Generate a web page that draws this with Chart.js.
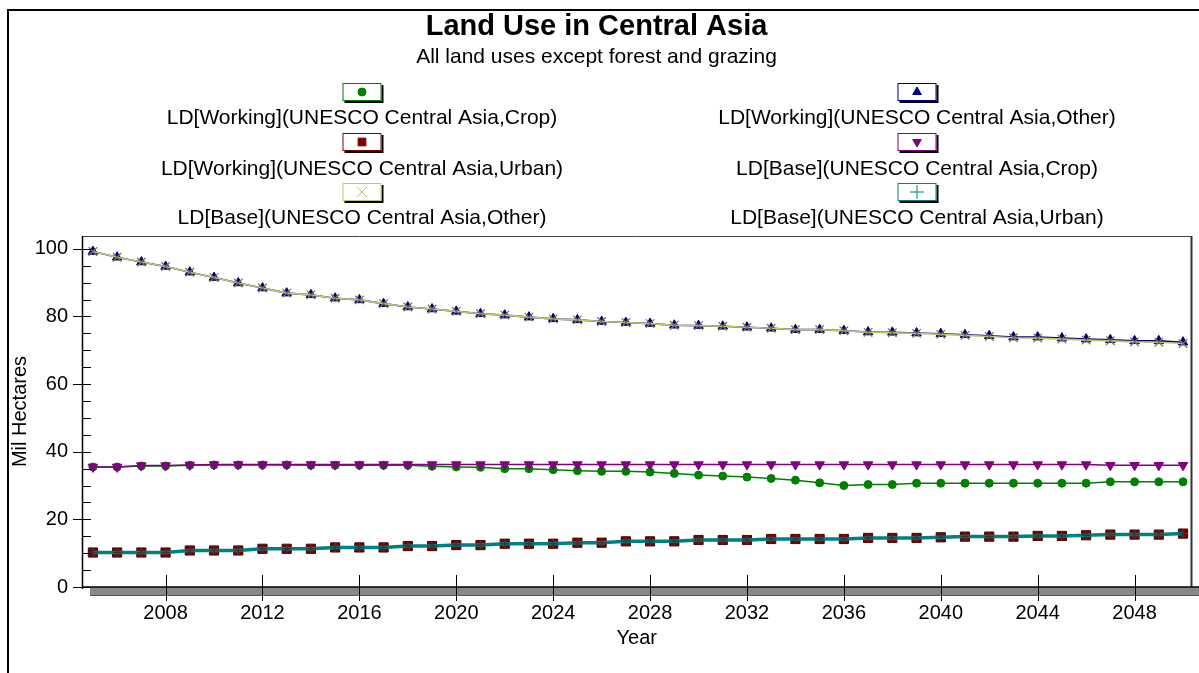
<!DOCTYPE html>
<html><head><meta charset="utf-8">
<title>Land Use in Central Asia</title>
<script src="https://cdn.jsdelivr.net/npm/chart.js@4.4.1/dist/chart.umd.min.js"></script>
<style>html,body{margin:0;padding:0;background:#fff;}#c{display:block;}</style>
</head><body>
<canvas id="c" width="1199" height="673"></canvas>
<script>
const chartTitle = 'Land Use in Central Asia';
const chartSubtitle = 'All land uses except forest and grazing';
const yAxisTitle = 'Mil Hectares';
const xAxisTitle = 'Year';
const years = [2005,2006,2007,2008,2009,2010,2011,2012,2013,2014,2015,2016,2017,2018,2019,2020,2021,2022,2023,2024,2025,2026,2027,2028,2029,2030,2031,2032,2033,2034,2035,2036,2037,2038,2039,2040,2041,2042,2043,2044,2045,2046,2047,2048,2049,2050];
const xTickValues = [2008,2012,2016,2020,2024,2028,2032,2036,2040,2044,2048];
const yTickValues = [0,20,40,60,80,100];
const yMinorTickValues = [0,5,10,15,20,25,30,35,40,45,50,55,60,65,70,75,80,85,90,95,100];

const workingCrop = [35.5,35.5,35.8,35.8,36.0,36.1,36.1,36.1,36.1,36.0,36.0,36.0,36.0,36.0,35.7,35.5,35.4,35.0,35.0,34.7,34.4,34.2,34.2,34.0,33.6,33.1,32.8,32.5,32.1,31.6,30.8,30.0,30.3,30.3,30.7,30.7,30.7,30.7,30.7,30.7,30.7,30.7,31.1,31.1,31.1,31.1];
const workingOther = [99.2,97.5,96.1,94.8,93.1,91.5,89.9,88.4,86.9,86.4,85.4,84.9,83.8,82.8,82.2,81.5,80.8,80.4,79.8,79.3,79.0,78.5,78.2,77.9,77.4,77.3,77.1,76.8,76.5,76.1,76.1,75.8,75.4,75.3,75.1,74.9,74.6,74.3,73.9,73.9,73.6,73.3,73.1,72.8,72.8,72.4];
const workingUrban = [10.2,10.2,10.2,10.2,10.8,10.8,10.8,11.3,11.3,11.3,11.7,11.7,11.7,12.1,12.1,12.4,12.4,12.8,12.8,12.8,13.1,13.1,13.5,13.5,13.5,13.9,13.9,13.9,14.2,14.2,14.2,14.2,14.5,14.5,14.5,14.7,14.9,14.9,14.9,15.1,15.1,15.3,15.5,15.5,15.5,15.8];
const baseCrop = [35.5,35.5,35.9,35.9,36.1,36.2,36.2,36.2,36.2,36.2,36.2,36.2,36.2,36.2,36.2,36.2,36.2,36.2,36.2,36.2,36.2,36.2,36.2,36.2,36.2,36.2,36.2,36.2,36.2,36.2,36.2,36.2,36.2,36.2,36.2,36.2,36.2,36.2,36.2,36.2,36.2,36.2,36.0,36.0,36.0,36.0];
const baseOther = [99.2,97.5,96.1,94.8,93.1,91.5,89.9,88.4,86.9,86.4,85.4,84.9,83.8,82.8,82.2,81.5,80.8,80.4,79.8,79.3,79.0,78.5,78.2,77.9,77.4,77.3,77.1,76.8,76.5,76.1,76.1,75.8,75.3,75.2,75.0,74.7,74.4,74.1,73.7,73.6,73.3,73.0,72.8,72.5,72.4,72.0];
const baseUrban = [10.2,10.2,10.2,10.2,10.8,10.8,10.8,11.3,11.3,11.3,11.7,11.7,11.7,12.1,12.1,12.4,12.4,12.8,12.8,12.8,13.1,13.1,13.5,13.5,13.5,13.9,13.9,13.9,14.2,14.2,14.2,14.2,14.5,14.5,14.5,14.7,14.9,14.9,14.9,15.1,15.1,15.3,15.5,15.5,15.5,15.8];

const FONT = '"Liberation Sans", Arial, sans-serif';
const pts = arr => arr.map((v, i) => ({x: years[i], y: v}));

const seriesDefs = [
  {label:'LD[Working](UNESCO Central Asia,Crop)', data:workingCrop, color:'#008000', style:'circle', r:4, bw:1, lw:1.5, fill:'#008000', border:'#008000', order:3, lr:4},
  {label:'LD[Working](UNESCO Central Asia,Other)', data:workingOther, color:'#000080', style:'triangle', r:5.5, bw:1, lw:1.6, fill:'#000080', border:'#000080', order:3, lr:5},
  {label:'LD[Working](UNESCO Central Asia,Urban)', data:workingUrban, color:'#800000', style:'rect', r:6.5, bw:1, lw:1.2, fill:'#800000', border:'#4a0000', order:2, lr:5.5},
  {label:'LD[Base](UNESCO Central Asia,Crop)', data:baseCrop, color:'#800080', style:'triangle', rot:180, r:5.5, bw:1, lw:1.5, fill:'#800080', border:'#800080', order:1, lr:5},
  {label:'LD[Base](UNESCO Central Asia,Other)', data:baseOther, color:'#c4c474', style:'crossRot', r:6, bw:1.3, lw:1.6, fill:'#7a7a50', border:'#7a7a50', order:1, lr:7},
  {label:'LD[Base](UNESCO Central Asia,Urban)', data:baseUrban, color:'#008080', style:'cross', r:4.5, bw:1.5, lw:3.5, fill:'#2a3a3a', border:'#2a3a3a', order:1, lr:7}
];

const datasets = seriesDefs.map(s => ({
  label: s.label,
  data: pts(s.data),
  borderColor: s.color,
  backgroundColor: s.color,
  borderWidth: s.lw,
  pointStyle: s.style,
  pointRotation: s.rot || 0,
  pointRadius: s.r,
  pointBorderWidth: s.bw,
  pointBackgroundColor: s.fill,
  pointBorderColor: s.border,
  tension: 0,
  order: s.order
}));

const framePlugin = {
  id: 'frame',
  beforeDraw(chart) {
    const ctx = chart.ctx;
    ctx.save();
    ctx.fillStyle = '#fff';
    ctx.fillRect(0, 0, chart.width, chart.height);
    ctx.restore();
  },
  afterDraw(chart) {
    const ctx = chart.ctx;
    const a = chart.chartArea;
    const xs = chart.scales.x, ys = chart.scales.y;
    ctx.save();
    // outer frame
    ctx.strokeStyle = '#000'; ctx.lineWidth = 2;
    ctx.beginPath(); ctx.moveTo(8, chart.height); ctx.lineTo(8, 10); ctx.lineTo(chart.width, 10); ctx.stroke();
    // 3D floor band under x axis
    ctx.fillStyle = '#888';
    ctx.fillRect(a.left + 8, a.bottom, chart.width - a.left - 8, 9);
    ctx.fillStyle = '#555';
    ctx.fillRect(a.left + 8, a.bottom + 8, chart.width - a.left - 8, 1);
    // plot frame
    ctx.strokeStyle = '#444'; ctx.lineWidth = 1;
    ctx.beginPath(); ctx.moveTo(a.left, a.top + 0.5); ctx.lineTo(a.right, a.top + 0.5); ctx.stroke();
    ctx.strokeStyle = '#333'; ctx.lineWidth = 2;
    ctx.beginPath(); ctx.moveTo(a.right, a.top); ctx.lineTo(a.right, a.bottom); ctx.stroke();
    ctx.strokeStyle = '#000'; ctx.lineWidth = 1.5;
    ctx.beginPath(); ctx.moveTo(a.left, a.bottom); ctx.lineTo(chart.width, a.bottom); ctx.stroke();
    ctx.beginPath(); ctx.moveTo(a.left + 0.5, a.top); ctx.lineTo(a.left + 0.5, a.bottom + 2); ctx.stroke();
    // y ticks
    ctx.strokeStyle = '#000'; ctx.lineWidth = 1;
    yMinorTickValues.forEach(v => {
      const y = Math.round(ys.getPixelForValue(v)) + 0.5;
      const major = yTickValues.includes(v);
      ctx.beginPath(); ctx.moveTo(major ? a.left - 9 : a.left, y); ctx.lineTo(a.left + 9, y); ctx.stroke();
    });
    // x ticks
    xTickValues.forEach(v => {
      const x = Math.round(xs.getPixelForValue(v)) + 0.5;
      ctx.beginPath(); ctx.moveTo(x, a.bottom - 12); ctx.lineTo(x, a.bottom + 14); ctx.stroke();
    });
    // legend
    const cols = [362, 917], boxTops = [83, 133, 183], labelYs = [118, 169, 218];
    chart.data.datasets.forEach((ds, i) => {
      const s = seriesDefs[i];
      const col = i % 2, row = Math.floor(i / 2);
      const cx = cols[col], top = boxTops[row], w = 39, h = 18, x = cx - w / 2;
      ctx.fillStyle = '#000';
      ctx.fillRect(x + 2, top + 2, w, h);
      ctx.fillStyle = '#fff';
      ctx.fillRect(x, top, w, h);
      ctx.strokeStyle = s.color; ctx.lineWidth = 1;
      ctx.strokeRect(x + 0.5, top + 0.5, w - 1, h - 1);
      ctx.fillStyle = s.color;
      ctx.strokeStyle = s.style === 'crossRot' ? '#b8b870' : s.color;
      Chart.helpers.drawPoint(ctx, {pointStyle: s.style, rotation: s.rot || 0, radius: s.lr, borderWidth: 1}, cx, top + h / 2);
      ctx.fillStyle = '#000';
      ctx.font = '21px ' + FONT;
      ctx.textAlign = 'center'; ctx.textBaseline = 'middle';
      ctx.fillText(ds.label, cx, labelYs[row]);
    });
    ctx.restore();
  }
};

new Chart(document.getElementById('c'), {
  type: 'line',
  data: { datasets },
  options: {
    responsive: false,
    animation: false,
    events: [],
    layout: { padding: { top: 0, left: 0, right: 6, bottom: 0 } },
    plugins: {
      legend: { display: false },
      tooltip: { enabled: false },
      title: { display: true, text: chartTitle, color: '#000', font: { family: FONT, size: 29, weight: 'bold', lineHeight: 1 }, padding: { top: 12, bottom: 0 } },
      subtitle: { display: true, text: chartSubtitle, color: '#000', font: { family: FONT, size: 21, weight: 'normal', lineHeight: 1 }, padding: { top: 6, bottom: 168 } }
    },
    scales: {
      x: {
        type: 'linear', min: 2004.55, max: 2050.35,
        afterBuildTicks: sc => { sc.ticks = xTickValues.map(v => ({ value: v })); },
        afterFit: sc => { sc.height = 86; },
        grid: { display: true, drawOnChartArea: false, drawTicks: true, tickLength: 14, color: 'rgba(0,0,0,0)' },
        border: { display: false },
        ticks: { color: '#000', font: { family: FONT, size: 20 }, padding: 0, maxRotation: 0, autoSkip: false, callback: v => String(v) },
        title: { display: true, text: xAxisTitle, color: '#000', font: { family: FONT, size: 20 }, padding: { top: 0, bottom: 23 } }
      },
      y: {
        type: 'linear', min: 0, max: 103.8,
        afterBuildTicks: sc => { sc.ticks = yTickValues.map(v => ({ value: v })); },
        afterFit: sc => { sc.width = 82; },
        grid: { display: true, drawOnChartArea: false, drawTicks: true, tickLength: 14, color: 'rgba(0,0,0,0)' },
        border: { display: false },
        ticks: { color: '#000', font: { family: FONT, size: 20 }, padding: 0, callback: v => String(v) },
        title: { display: true, text: yAxisTitle, color: '#000', font: { family: FONT, size: 20 }, padding: { top: 8, bottom: 0 } }
      }
    }
  },
  plugins: [framePlugin]
});
</script>
</body></html>
